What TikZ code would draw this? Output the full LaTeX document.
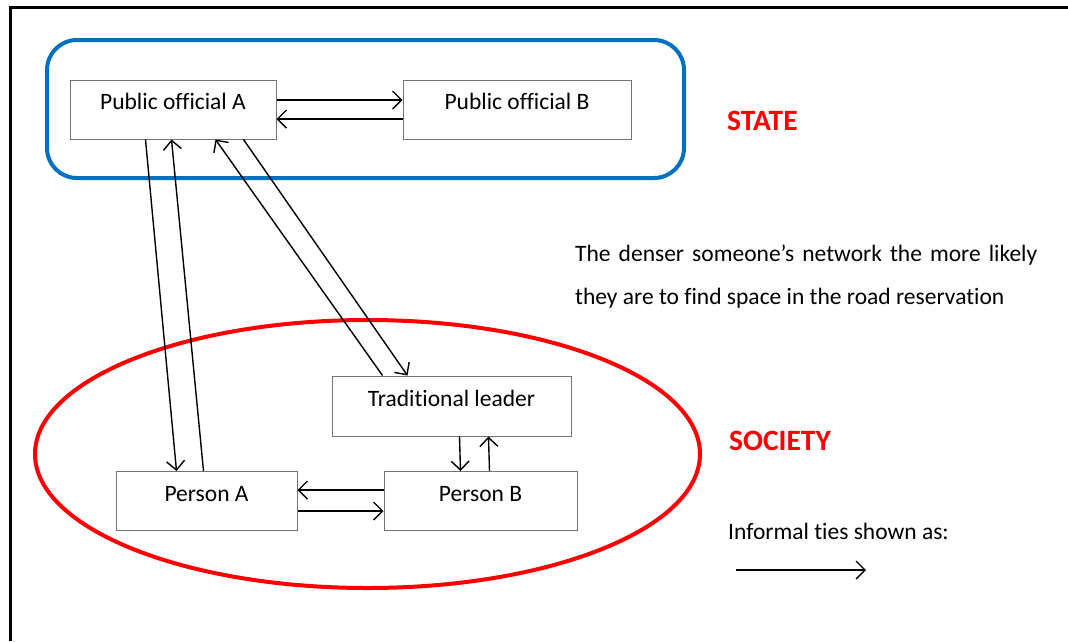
\documentclass[tikz,border=0pt]{standalone}
\usepackage{fontspec}
\setmainfont[Ligatures=NoCommon]{Carlito}
\usepackage{xcolor}
\usepackage{tikz}
\usetikzlibrary{shapes.geometric, arrows.meta, positioning, backgrounds}
\definecolor{stateblue}{HTML}{0070C0}
\definecolor{societyred}{HTML}{FF0000}
\tikzstyle{actor} = [rectangle, draw=black!55, line width=1pt, minimum height=59pt, text height=15pt, text depth=15pt, font=\fontsize{23.5}{28}\selectfont]
\tikzstyle{tie} = [line width=1.4pt, -{Straight Barb[length=9pt, width=18pt, line width=1.4pt]}]
\tikzstyle{label} = [font=\fontsize{29.5}{34}\selectfont\bfseries, text=societyred, inner sep=0pt]

\begin{document}
\begin{tikzpicture}[x=1pt, y=-1pt]
    \useasboundingbox (0,0) rectangle (1068,641);
    % Page frame (top and left edges only)
    \draw[line width=3pt] (10,641) -- (10,7.5) -- (1068,7.5);

    % Groups
    \node[draw=stateblue, line width=4pt, rounded corners=30pt, minimum width=637pt, minimum height=138pt] (state) at (365.5,109) {};
    \node[ellipse, draw=societyred, line width=4pt, minimum width=665pt, minimum height=268pt] (society) at (367.5,454) {};

    % Officials
    \node[actor, minimum width=206pt] (puba) at (173,109.5) {Public official A};
    \node[actor, minimum width=228pt, right=126pt of puba] (pubb) {Public official B};

    % Society members
    \node[actor, minimum width=239pt, minimum height=60pt] (tl) at (451.5,406) {Traditional leader};
    \node[actor, minimum width=181pt] (pera) at (206.5,501) {Person A};
    \node[actor, minimum width=193pt, right=86pt of pera] (perb) {Person B};

    % Group labels
    \node[label, anchor=west] (statelbl) at (727,121) {STATE};
    \node[label, anchor=west] (societylbl) at (729,441) {SOCIETY};

    % Note and key
    \node[anchor=north west, text width=462pt, align=justify, inner sep=0pt, font=\fontsize{23.5}{43}\selectfont] (note) at (575,245) {The denser someone’s network the more likely they are to find space in the road reservation};
    \node[anchor=base west, inner sep=0pt, font=\fontsize{23.5}{28}\selectfont] (key) at (728,539) {Informal ties shown as:};
    \coordinate (keystart) at (736,570);
    \coordinate (keyend) at (866,570);

    % Ties between officials
    \draw[tie] ([yshift=9.5pt]puba.east) -- ([yshift=9.5pt]pubb.west);
    \draw[tie] ([yshift=-9.5pt]pubb.west) -- ([yshift=-9.5pt]puba.east);

    % Ties from state to society
    \draw[tie] ([xshift=76pt]puba.south west) -- ([xshift=61pt]pera.north west);
    \draw[tie] ([xshift=88pt]pera.north west) -- ([xshift=102pt]puba.south west);
    \draw[tie] ([xshift=174pt]puba.south west) -- ([xshift=76pt]tl.north west);
    \draw[tie] ([xshift=51pt]tl.north west) -- ([xshift=146pt]puba.south west);

    % Ties within society
    \draw[tie] ([xshift=128pt]tl.south west) -- ([xshift=77pt]perb.north west);
    \draw[tie] ([xshift=106pt]perb.north west) -- ([xshift=157pt]tl.south west);
    \draw[tie] ([yshift=11pt]perb.west) -- ([yshift=11pt]pera.east);
    \draw[tie] ([yshift=-10pt]pera.east) -- ([yshift=-10pt]perb.west);

    % Key arrow
    \draw[tie] (keystart) -- (keyend);
\end{tikzpicture}
\end{document}
